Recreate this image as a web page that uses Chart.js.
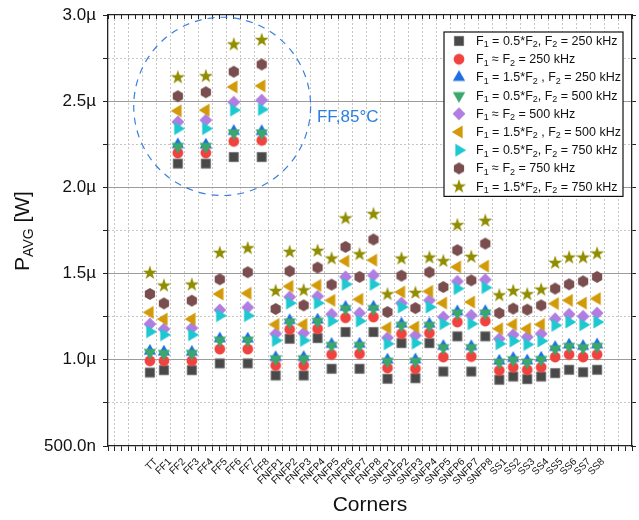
<!DOCTYPE html>
<html><head><meta charset="utf-8">
<script src="https://cdn.jsdelivr.net/npm/chart.js@4.4.1/dist/chart.umd.min.js"></script>
<style>html,body{margin:0;padding:0;background:#fff}</style>
</head><body>
<canvas id="c" width="639" height="520"></canvas>
<script>
// ---------- DATA (values in µW) ----------
const corners = ['TT','FF1','FF2','FF3','FF4','FF5','FF6','FF7','FF8',
  'FNFP1','FNFP2','FNFP3','FNFP4','FNFP5','FNFP6','FNFP7','FNFP8',
  'SNFP1','SNFP2','SNFP3','SNFP4','SNFP5','SNFP6','SNFP7','SNFP8',
  'SS1','SS2','SS3','SS4','SS5','SS6','SS7','SS8'];

const half250 = [0.926,0.940,2.138,0.940,2.138,0.979,2.176,0.979,2.176,
  0.909,1.122,0.909,1.126,0.948,1.161,0.948,1.161,
  0.890,1.097,0.893,1.097,0.932,1.136,0.932,1.136,
  0.884,0.903,0.888,0.903,0.923,0.942,0.928,0.942];
const eq250 = [0.994,0.994,2.200,0.994,2.200,1.062,2.267,1.062,2.273,
  0.967,1.176,0.967,1.180,1.031,1.244,1.035,1.248,
  0.953,1.151,0.948,1.155,1.016,1.219,1.019,1.225,
  0.938,0.957,0.942,0.957,1.016,1.031,1.016,1.031];
const x15_250 = [1.050,1.045,2.248,1.044,2.246,1.122,2.325,1.121,2.324,
  1.013,1.228,1.014,1.231,1.090,1.305,1.091,1.306,
  0.999,1.208,1.000,1.207,1.078,1.279,1.077,1.280,
  0.993,1.008,0.994,1.010,1.072,1.086,1.078,1.087];
const half500 = [1.043,1.037,2.238,1.037,2.238,1.114,2.316,1.114,2.316,
  1.006,1.219,1.006,1.223,1.083,1.297,1.083,1.297,
  0.992,1.200,0.992,1.200,1.070,1.271,1.070,1.271,
  0.986,1.000,0.986,1.002,1.064,1.078,1.070,1.078];
const eq500 = [1.207,1.178,2.380,1.184,2.390,1.289,2.494,1.304,2.506,
  1.151,1.364,1.155,1.368,1.264,1.481,1.271,1.490,
  1.128,1.329,1.141,1.345,1.248,1.455,1.258,1.465,
  1.122,1.145,1.132,1.151,1.238,1.264,1.252,1.271];
const x15_500 = [1.275,1.236,2.444,1.236,2.448,1.382,2.583,1.386,2.589,
  1.205,1.426,1.205,1.432,1.345,1.572,1.351,1.578,
  1.186,1.393,1.190,1.397,1.329,1.539,1.335,1.543,
  1.180,1.205,1.180,1.205,1.326,1.345,1.329,1.355];
const half750 = [1.163,1.145,2.341,1.145,2.341,1.256,2.448,1.256,2.452,
  1.112,1.329,1.112,1.329,1.225,1.438,1.225,1.438,
  1.093,1.306,1.097,1.306,1.209,1.413,1.209,1.419,
  1.093,1.109,1.089,1.109,1.200,1.219,1.203,1.219];
const eq750 = [1.382,1.327,2.529,1.343,2.552,1.467,2.671,1.508,2.713,
  1.295,1.514,1.316,1.535,1.436,1.655,1.481,1.698,
  1.277,1.488,1.300,1.508,1.422,1.636,1.461,1.674,
  1.271,1.297,1.291,1.316,1.413,1.438,1.455,1.481];
const x15_750 = [1.504,1.430,2.638,1.436,2.645,1.620,2.829,1.647,2.855,
  1.399,1.626,1.403,1.632,1.587,1.820,1.612,1.845,
  1.380,1.587,1.388,1.593,1.572,1.781,1.597,1.806,
  1.374,1.399,1.380,1.407,1.562,1.593,1.593,1.616];

const seriesLabels = [
  'F_1 = 0.5*F_2, F_2 = 250 kHz',
  'F_1 \u2248 F_2 = 250 kHz',
  'F_1 = 1.5*F_2 , F_2 = 250 kHz',
  'F_1 = 0.5*F_2, F_2 = 500 kHz',
  'F_1 \u2248 F_2 = 500 kHz',
  'F_1 = 1.5*F_2 , F_2 = 500 kHz',
  'F_1 = 0.5*F_2, F_2 = 750 kHz',
  'F_1 \u2248 F_2 = 750 kHz',
  'F_1 = 1.5*F_2, F_2 = 750 kHz'
];
const seriesValues = [half250, eq250, x15_250, half500, eq500, x15_500, half750, eq750, x15_750];
const yTickValues = [0.5,0.75,1.0,1.25,1.5,1.75,2.0,2.25,2.5,2.75,3.0];

// ---------- STYLE ----------
const FONT = "'Liberation Sans', Arial, Helvetica, sans-serif";
const colors = ['#494949','#f0423e','#1f6fe3','#3aa86c','#b07de0','#d29a08','#1ec8d0','#7a4e4f','#918d00'];

function mk(shape, color){
  const c = document.createElement('canvas'); c.width = 18; c.height = 18;
  const g = c.getContext('2d'); g.translate(9,9); g.fillStyle = color; g.beginPath();
  switch(shape){
    case 'square': g.rect(-4.6,-4.6,9.2,9.2); break;
    case 'circle': g.arc(0,0,5.4,0,Math.PI*2); break;
    case 'up': g.moveTo(0,-7.2); g.lineTo(6.2,3.6); g.lineTo(-6.2,3.6); break;
    case 'down': g.moveTo(0,7.2); g.lineTo(6.2,-3.6); g.lineTo(-6.2,-3.6); break;
    case 'diamond': g.moveTo(0,-6.4); g.lineTo(6.4,0); g.lineTo(0,6.4); g.lineTo(-6.4,0); break;
    case 'left': g.moveTo(-7.2,0); g.lineTo(3.6,-6.4); g.lineTo(3.6,6.4); break;
    case 'right': g.moveTo(7.2,0); g.lineTo(-3.6,-6.4); g.lineTo(-3.6,6.4); break;
    case 'hex': for(let k=0;k<6;k++){const a=-Math.PI/2+k*Math.PI/3; const px=5.9*Math.cos(a), py=5.9*Math.sin(a); k?g.lineTo(px,py):g.moveTo(px,py);} break;
    case 'star': for(let k=0;k<10;k++){const a=-Math.PI/2+k*Math.PI/5; const r=k%2?2.9:7.4; const px=r*Math.cos(a), py=r*Math.sin(a); k?g.lineTo(px,py):g.moveTo(px,py);} break;
  }
  g.closePath(); g.fill();
  if(shape==='square'){ g.strokeStyle='#707070'; g.lineWidth=1; g.stroke(); }
  return c;
}
const shapes = ['square','circle','up','down','diamond','left','right','hex','star'];
const markers = shapes.map((s,i)=>mk(s,colors[i]));

// ---------- helpers ----------
const XMIN = -3, XMAX = 34.5;
function halfTicks(s){ const t=[]; for(let v=XMIN; v<=XMAX+1e-9; v+=0.5) t.push({value:v}); s.ticks=t; }
function yTicks(s){ s.ticks = yTickValues.map(v=>({value:v})); }
const isHalf = v => Math.abs(Math.abs(v % 1) - 0.5) < 1e-9;
const isMajorY = v => Math.abs(v*2 - Math.round(v*2)) < 1e-9;
function fmtY(v){ return v === 0.5 ? '500.0n' : v.toFixed(1) + '\u00b5'; }

function drawSubText(ctx, text, x, y, size, subSize, subDy){
  let cx = x;
  for(let i=0;i<text.length;i++){
    let ch = text[i];
    if(ch === '_' && i+1 < text.length){
      ch = text[++i];
      ctx.font = subSize + 'px ' + FONT;
      ctx.fillText(ch, cx, y + subDy);
      cx += ctx.measureText(ch).width;
    } else {
      ctx.font = size + 'px ' + FONT;
      ctx.fillText(ch, cx, y);
      cx += ctx.measureText(ch).width;
    }
  }
  return cx - x;
}

// annotation placement (in data units)
const ringCenter = {x: 5.17, y: 2.47}, ringRadius = {x: 6.33, y: 0.517};
const ringLabel = {x: 11.95, y: 2.405, text: 'FF,85\u00b0C'};

const decorPlugin = {
  id: 'decor',
  afterDatasetsDraw(chart){
    const ctx = chart.ctx, xs = chart.scales.x, ys = chart.scales.y;
    const cx = xs.getPixelForValue(ringCenter.x), cy = ys.getPixelForValue(ringCenter.y);
    const rx = Math.abs(xs.getPixelForValue(ringCenter.x + ringRadius.x) - cx);
    const ry = Math.abs(ys.getPixelForValue(ringCenter.y + ringRadius.y) - cy);
    ctx.save();
    ctx.strokeStyle = '#3a80de'; ctx.lineWidth = 1.2; ctx.setLineDash([7,6]);
    ctx.beginPath(); ctx.ellipse(cx, cy, rx, ry, 0, 0, Math.PI*2); ctx.stroke();
    ctx.setLineDash([]);
    ctx.fillStyle = '#2c7fe0'; ctx.font = '17px ' + FONT; ctx.textBaseline = 'middle'; ctx.textAlign = 'left';
    ctx.fillText(ringLabel.text, xs.getPixelForValue(ringLabel.x), ys.getPixelForValue(ringLabel.y));
    ctx.restore();
  },
  afterDraw(chart){
    const ctx = chart.ctx, area = chart.chartArea;
    const right = area.right - 9, top = area.top + 17, w = 179, rowH = 18.2;
    const left = right - w, h = rowH*seriesLabels.length + 0.6;
    ctx.save();
    ctx.fillStyle = '#fff'; ctx.fillRect(left, top, w, h);
    ctx.strokeStyle = '#111'; ctx.lineWidth = 1.2; ctx.strokeRect(left, top, w, h);
    ctx.fillStyle = '#111'; ctx.textBaseline = 'middle'; ctx.textAlign = 'left';
    seriesLabels.forEach((lab,i)=>{
      const yy = top + 9 + i*rowH;
      ctx.drawImage(markers[i], left + 15 - 9, yy - 9);
      drawSubText(ctx, lab, left + 32, yy + 0.5, 12.5, 9, 3.5);
    });
    ctx.translate(23, 231); ctx.rotate(-Math.PI/2);
    ctx.font = '21px ' + FONT;
    const wP = ctx.measureText('P').width;
    ctx.font = '14px ' + FONT; const wS = ctx.measureText('AVG').width;
    ctx.font = '21px ' + FONT; const wW = ctx.measureText(' [W]').width;
    let x0 = -(wP + wS + wW)/2;
    ctx.fillStyle = '#111';
    ctx.font = '21px ' + FONT; ctx.fillText('P', x0, 0);
    ctx.font = '14px ' + FONT; ctx.fillText('AVG', x0 + wP, 6);
    ctx.font = '21px ' + FONT; ctx.fillText(' [W]', x0 + wP + wS, 0);
    ctx.restore();
  }
};

const datasets = seriesValues.map((vals,i)=>({
  label: seriesLabels[i],
  data: vals.map((v,k)=>({x:k, y:v})),
  pointStyle: markers[i],
  pointRadius: 6, pointHoverRadius: 6,
  showLine: false,
  order: 9 - i,
  xAxisID: 'x', yAxisID: 'y'
}));

new Chart(document.getElementById('c'), {
  type: 'scatter',
  data: { datasets },
  options: {
    responsive: false, animation: false, devicePixelRatio: 1,
    layout: { padding: 0 },
    plugins: { legend: {display:false}, tooltip: {enabled:false}, title: {display:false} },
    scales: {
      x: {
        type: 'linear', position: 'bottom', min: XMIN, max: XMAX,
        afterBuildTicks: halfTicks,
        afterFit: s => { s.height = 74; s.paddingLeft = 0; s.paddingRight = 0; },
        ticks: { autoSkip: false, minRotation: 45, maxRotation: 45, padding: 5, labelOffset: 6,
          font: {size: 10, family: FONT}, color: '#111',
          callback: v => (Number.isInteger(v) && v >= 0 && v < corners.length) ? corners[v] : '' },
        grid: { color: c => (c.tick && isHalf(c.tick.value) && c.tick.value < XMAX) ? '#c6c6c6' : 'rgba(0,0,0,0)',
          lineWidth: 1, tickColor: '#222', tickLength: 5 },
        border: { display: true, color: '#222', width: 1.3, dash: [2,2] },
        title: { display: true, text: 'Corners', font: {size: 21, family: FONT}, color: '#111', padding: {top: 0, bottom: 2} }
      },
      x2: {
        type: 'linear', position: 'top', min: XMIN, max: XMAX,
        afterBuildTicks: halfTicks,
        afterFit: s => { s.height = 15; s.paddingLeft = 0; s.paddingRight = 0; },
        ticks: { display: false },
        grid: { drawOnChartArea: false, tickColor: '#222', tickLength: -4 },
        border: { display: true, color: '#222', width: 1.3 }
      },
      y: {
        type: 'linear', position: 'left', min: 0.5, max: 3.0,
        afterBuildTicks: yTicks,
        afterFit: s => { s.width = 108; s.paddingTop = 0; s.paddingBottom = 0; },
        ticks: { font: {size: 17, family: FONT}, color: '#111', padding: 7,
          callback: v => isMajorY(v) ? fmtY(v) : '' },
        grid: { color: c => (c.tick && isMajorY(c.tick.value) && c.tick.value > 0.5 && c.tick.value < 3.0) ? '#9c9c9c' : 'rgba(0,0,0,0)',
          lineWidth: 1, tickColor: '#222', tickLength: 5 },
        border: { display: true, color: '#222', width: 1.3 }
      },
      y2: {
        type: 'linear', position: 'right', min: 0.5, max: 3.0,
        afterBuildTicks: yTicks,
        afterFit: s => { s.width = 4; s.paddingTop = 0; s.paddingBottom = 0; },
        ticks: { display: false },
        grid: { color: c => (c.tick && !isMajorY(c.tick.value)) ? '#c6c6c6' : 'rgba(0,0,0,0)',
          lineWidth: 1, tickColor: '#222', tickLength: 4 },
        border: { display: true, color: '#222', width: 1.3, dash: [2,2] }
      }
    }
  },
  plugins: [decorPlugin]
});
</script>
</body></html>
